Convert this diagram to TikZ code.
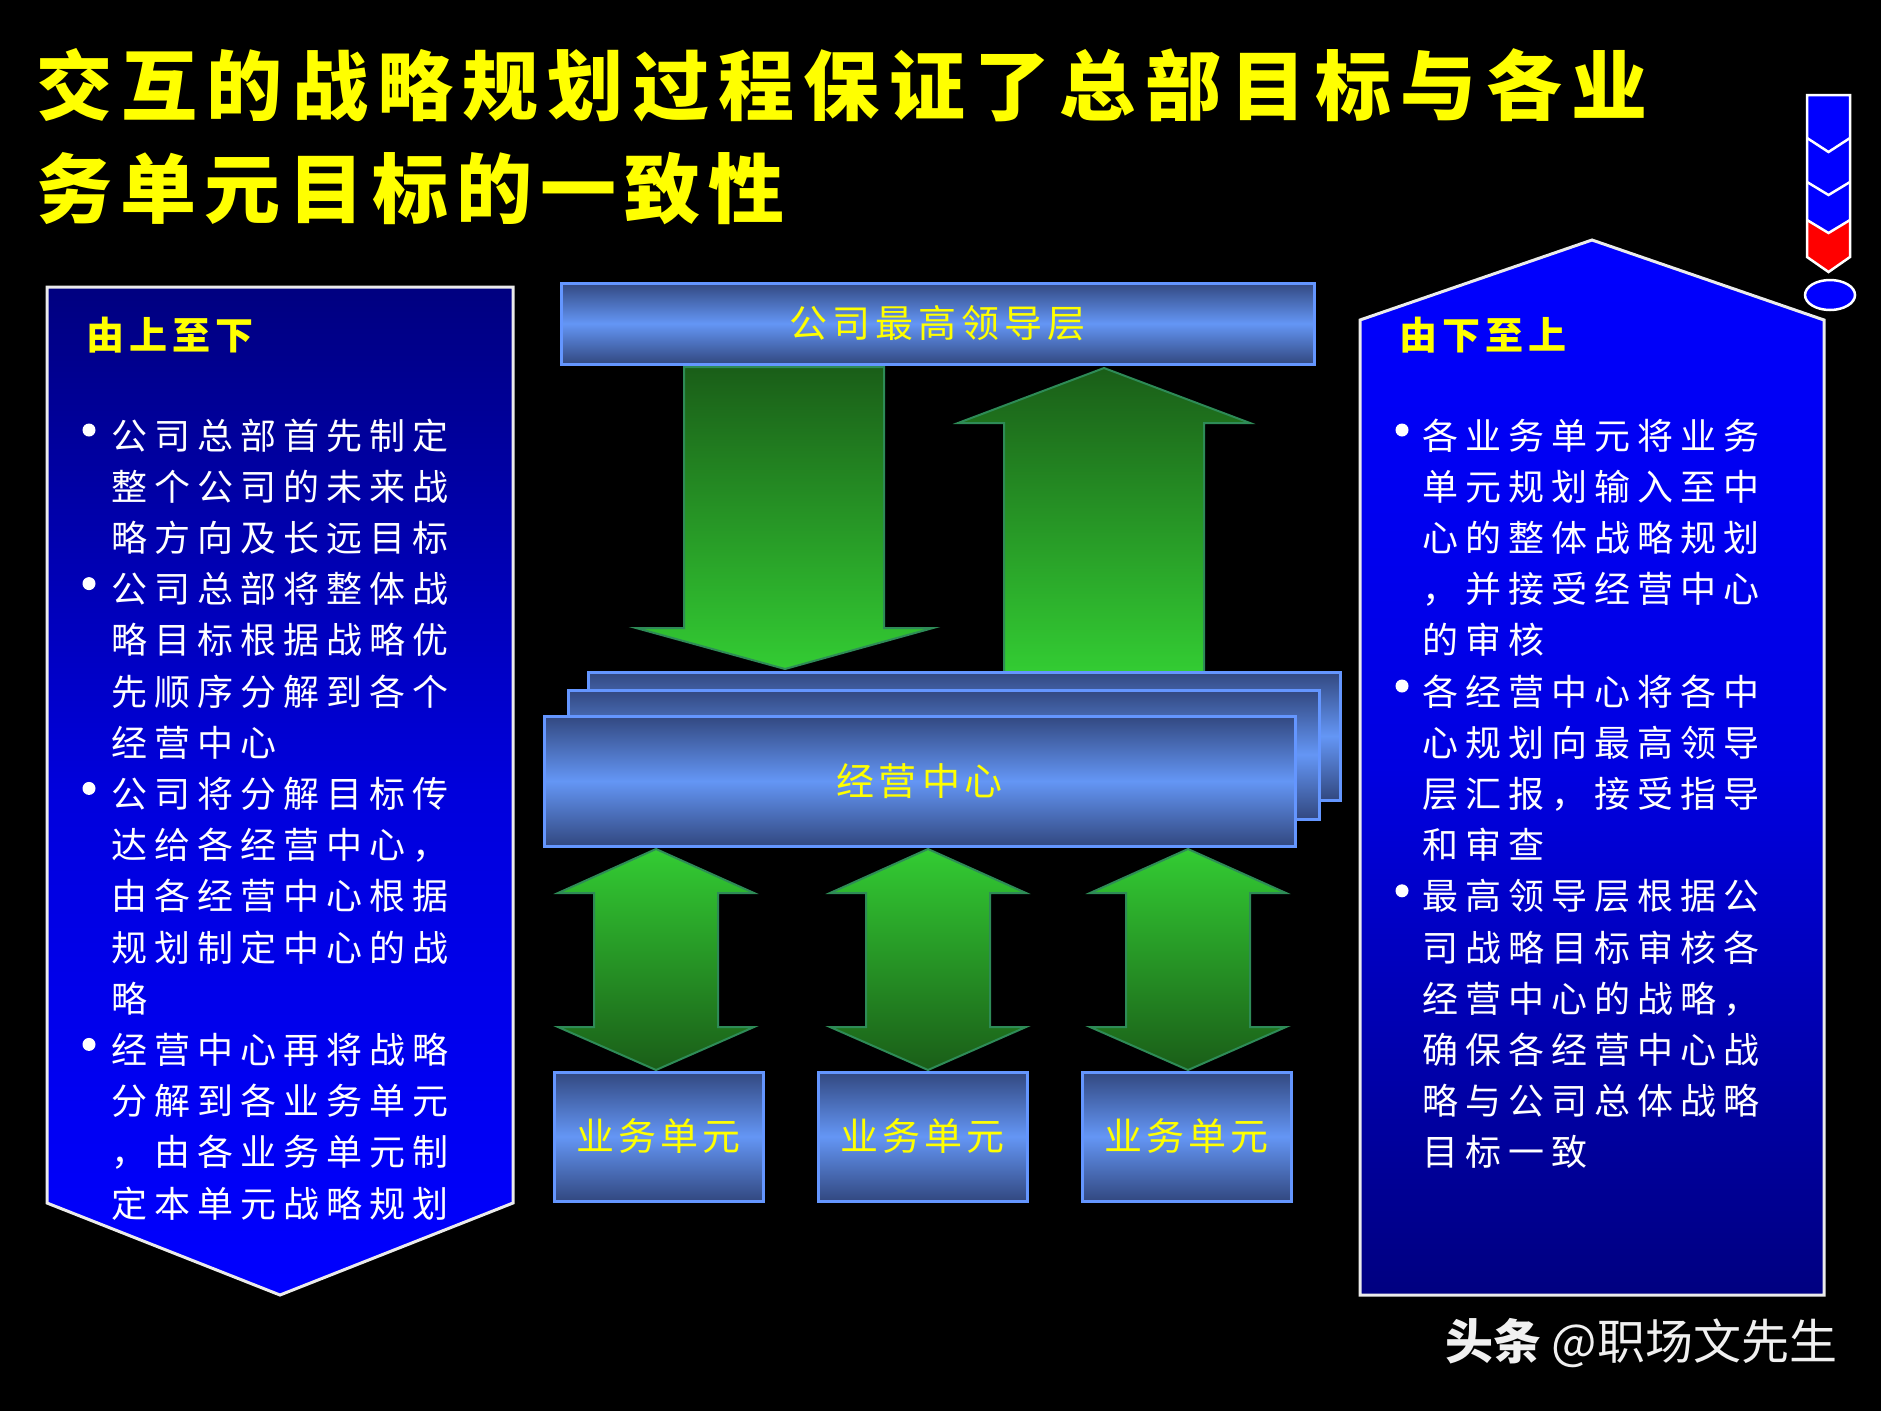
\documentclass[tikz,border=0pt]{standalone}
\usepackage{fontspec}
\setmainfont{Noto Sans CJK SC}
\definecolor{navyb}{RGB}{0,0,128}
\definecolor{pureblue}{RGB}{0,0,255}
\definecolor{boxdark}{RGB}{50,72,128}
\definecolor{boxlight}{RGB}{100,150,245}
\definecolor{boxline}{RGB}{100,150,255}
\definecolor{gdark}{RGB}{26,94,24}
\definecolor{gbright}{RGB}{51,204,51}
\definecolor{gline}{RGB}{46,139,87}
\definecolor{ttl}{RGB}{255,255,0}
\makeatletter
\def\spc@end{\spc@end}
\newcommand\spc[2]{\def\spc@k{#1}\edef\spc@tmp{#2}\expandafter\spc@loop\spc@tmp\spc@end}
\def\spc@loop#1{\ifx#1\spc@end\kern-\spc@k pt\relax\else#1\kern\spc@k pt\relax\expandafter\spc@loop\fi}
\makeatother
\begin{document}
\begin{tikzpicture}[x=1pt,y=-1pt,
  bodytxt/.style={text=white, font=\fontsize{36}{40}\selectfont, inner sep=0, anchor=base west},
  headtxt/.style={text=ttl, font=\bfseries\fontsize{38}{42}\selectfont, inner sep=0, anchor=base west},
  titletxt/.style={text=ttl, font=\bfseries\fontsize{76}{80}\selectfont, inner sep=0, anchor=base west},
  lbltxt/.style={text=ttl, font=\fontsize{38}{42}\selectfont, inner sep=0},
  bluebox/.style={draw=boxline, line width=3, top color=boxdark, bottom color=boxdark, middle color=boxlight, inner sep=0},
  gdown/.style={draw=gline, line width=2, top color=gdark, bottom color=gbright},
  gupdown/.style={draw=gline, line width=2, top color=gbright, bottom color=gdark},
  panelline/.style={draw=white!92!black, line width=3},
]
\fill[black] (0,0) rectangle (1881,1411);
\useasboundingbox (0,0) rectangle (1881,1411);

% title
\node[titletxt] (title1) at (36,114) {\spc{9.3}{交互的战略规划过程保证了总部目标与各业}};
\node[titletxt] (title2) at (36,217) {\spc{8}{务单元目标的一致性}};

% icon top right
\fill[pureblue] (1807,95) -- (1850,95) -- (1850,257) -- (1828.5,272) -- (1807,257) -- cycle;
\fill[red] (1807,220) -- (1828.5,233) -- (1850,220) -- (1850,257) -- (1828.5,272) -- (1807,257) -- cycle;
\draw[white, line width=2.5] (1807,138) -- (1828.5,152) -- (1850,138);
\draw[white, line width=2.5] (1807,182) -- (1828.5,195) -- (1850,182);
\draw[white, line width=2.5] (1807,220) -- (1828.5,233) -- (1850,220);
\draw[white, line width=2.5, line join=miter] (1807,95) -- (1850,95) -- (1850,257) -- (1828.5,272) -- (1807,257) -- cycle;
\draw[white, line width=2.5, fill=pureblue] (1830,295) ellipse [x radius=25, y radius=15];

% left panel
\path[panelline, top color=navyb, bottom color=pureblue, middle color={rgb,255:red,0;green,0;blue,220}]
  (47,287) -- (513,287) -- (513,1203) -- (280,1295) -- (47,1203) -- cycle;
\node[headtxt] (lhead) at (86,349) {\spc{5}{由上至下}};
\foreach \t [count=\i from 0] in {公司总部首先制定,整个公司的未来战,略方向及长远目标,公司总部将整体战,略目标根据战略优,先顺序分解到各个,经营中心,公司将分解目标传,达给各经营中心，,由各经营中心根据,规划制定中心的战,略,经营中心再将战略,分解到各业务单元,，由各业务单元制,定本单元战略规划}
  \node[bodytxt] (L\i) at (111,449+51.2*\i) {\spc{7}{\t}};
\foreach \k in {0,3,7,12} \fill[white] (89,430+51.2*\k) circle (6.5);

% right panel
\path[panelline, top color=pureblue, bottom color=navyb, middle color={rgb,255:red,0;green,0;blue,225}]
  (1592,240) -- (1824,320) -- (1824,1295) -- (1360,1295) -- (1360,320) -- cycle;
\node[headtxt] (rhead) at (1399,349) {\spc{5}{由下至上}};
\foreach \t [count=\i from 0] in {各业务单元将业务,单元规划输入至中,心的整体战略规划,，并接受经营中心,的审核,各经营中心将各中,心规划向最高领导,层汇报，接受指导,和审查,最高领导层根据公,司战略目标审核各,经营中心的战略，,确保各经营中心战,略与公司总体战略,目标一致}
  \node[bodytxt] (R\i) at (1422,449+51.2*\i) {\spc{7}{\t}};
\foreach \k in {0,5,9} \fill[white] (1402,430+51.2*\k) circle (6.5);

% big arrows
\path[gdown] (684,367) -- (884,367) -- (884,628) -- (933,628) -- (785,669) -- (636,628) -- (684,628) -- cycle;
\path[gdown] (1104,368) -- (1250,423) -- (1204,423) -- (1204,672) -- (1004,672) -- (1004,423) -- (958,423) -- cycle;

% top box
\node[bluebox, minimum width=753, minimum height=81] (top) at (937.5,323.5) {};
\node[lbltxt] (toplbl) at (top.center) {\spc{5}{公司最高领导层}};

% operation centre stack
\node[bluebox, minimum width=752, minimum height=128] (opsback) at (964,736) {};
\node[bluebox, minimum width=751, minimum height=129] (opsmid) at (943.5,754.5) {};
\node[bluebox, minimum width=751, minimum height=130] (ops) at (919.5,781) {};
\node[lbltxt] (opslbl) at (ops.center) {\spc{5}{经营中心}};

% small double arrows
\foreach \cx in {656,928,1188}
  \path[gupdown] (\cx,849) -- (\cx+98,893) -- (\cx+62,893) -- (\cx+62,1027) -- (\cx+98,1027) -- (\cx,1070) -- (\cx-98,1027) -- (\cx-62,1027) -- (\cx-62,893) -- (\cx-98,893) -- cycle;

% business units
\foreach \cx [count=\j] in {658.5,922.5,1186.5} {
  \node[bluebox, minimum width=209, minimum height=129] (bu\j) at (\cx,1136.5) {};
  \node[lbltxt] (bulbl\j) at (bu\j.center) {\spc{4}{业务单元}};
}

% watermark
\node[anchor=west, inner sep=0, text=white!94!black, font=\fontsize{48}{52}\selectfont] (wm) at (1445,1343) {\textbf{头条} @职场文先生};
\end{tikzpicture}
\end{document}
